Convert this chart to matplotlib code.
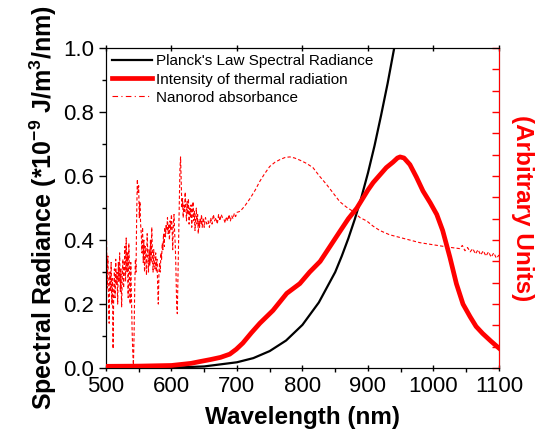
import matplotlib
matplotlib.use('Agg')
import matplotlib.pyplot as plt
from matplotlib.ticker import MultipleLocator, NullFormatter
from matplotlib.lines import Line2D

plt.rcParams['font.family'] = ['Liberation Sans', 'DejaVu Sans']
plt.rcParams['mathtext.fontset'] = 'custom'
plt.rcParams['mathtext.rm'] = 'Liberation Sans'
plt.rcParams['mathtext.bf'] = 'Liberation Sans:bold'

# Planck's law spectral radiance (left axis, *1e-9 J/m^3/nm)
planck_wl = [500, 550, 600, 650, 700, 725, 750, 775, 800, 825, 850, 860, 870, 880,
             890, 900, 910, 920, 930, 940, 950]
planck_val = [0.0, 0.0003, 0.001, 0.005, 0.018, 0.031, 0.053, 0.086, 0.135, 0.205,
              0.30, 0.35, 0.405, 0.466, 0.534, 0.61, 0.695, 0.79, 0.89, 1.0, 1.13]

# Intensity of thermal radiation (right axis, arbitrary units)
thermal_wl = [500, 550, 600, 630, 643, 660, 675, 689, 699, 709, 722, 735, 755, 776,
              796, 811, 827, 842, 857, 870, 883, 900, 908, 918, 928, 938, 945, 949,
              955, 964, 974, 984, 995, 1005, 1014, 1025, 1035, 1045, 1056, 1065, 1075,
              1088, 1100]
thermal_val = [0.008, 0.009, 0.012, 0.022, 0.03, 0.04, 0.05, 0.065, 0.088, 0.117,
               0.165, 0.21, 0.27, 0.35, 0.396, 0.45, 0.50, 0.57, 0.64, 0.70, 0.75,
               0.835, 0.87, 0.905, 0.94, 0.965, 0.985, 0.99, 0.985, 0.954, 0.895,
               0.83, 0.775, 0.72, 0.645, 0.52, 0.395, 0.30, 0.24, 0.195, 0.162,
               0.125, 0.093]

# Nanorod absorbance (right axis, arbitrary units)
nanorod_wl = [500, 501, 502, 503, 504, 505, 506, 507, 508, 509, 510, 511, 512, 513,
              514, 515, 516, 517, 518, 519, 520, 521, 522, 523, 524, 525, 526, 527,
              528, 529, 530, 531, 532, 533, 534, 535, 536, 537, 538, 539, 540, 541,
              542, 543, 544, 545, 546, 547, 548, 549, 550, 551, 552, 553, 554, 555,
              556, 557, 558, 559, 560, 561, 562, 563, 564, 565, 566, 567, 568, 569,
              570, 571, 572, 573, 574, 575, 576, 577, 578, 579, 580, 581, 582, 583,
              584, 585, 586, 587, 588, 589, 590, 591, 592, 593, 594, 595, 596, 597,
              598, 599, 600, 601, 602, 603, 604, 605, 606, 607, 608, 609, 610, 611,
              612, 613, 614, 615, 616, 617, 618, 619, 620, 621, 622, 623, 624, 625,
              626, 627, 628, 629, 630, 631, 632, 633, 634, 635, 636, 637, 638, 639,
              640, 641, 642, 643, 644, 645, 646, 647, 648, 649, 650, 652, 654, 656,
              658, 660, 662, 664, 666, 668, 670, 672, 674, 676, 678, 680, 682, 684,
              686, 688, 690, 692, 694, 696, 698, 700, 705, 712, 720, 728, 735, 742,
              750, 758, 766, 774, 781, 788, 796, 806, 816, 826, 837, 847, 857, 867,
              877, 888, 898, 908, 918, 933, 949, 964, 979, 995, 1010, 1025, 1040,
              1044, 1048, 1052, 1056, 1060, 1064, 1068, 1072, 1076, 1080, 1084, 1088,
              1092, 1096, 1100]
nanorod_val = [0.45, 0.60, 0.375, 0.525, 0.315, 0.21, 0.45, 0.36, 0.495, 0.30, 0.42,
               0.09, 0.375, 0.465, 0.33, 0.51, 0.39, 0.45, 0.30, 0.495, 0.405, 0.54,
               0.36, 0.465, 0.285, 0.42, 0.51, 0.375, 0.45, 0.57, 0.405, 0.61, 0.45,
               0.54, 0.33, 0.585, 0.45, 0.30, 0.495, 0.33, 0.18, 0.075, 0.015, 0.15,
               0.375, 0.51, 0.45, 0.72, 0.885, 0.825, 0.855, 0.705, 0.78, 0.675, 0.63,
               0.54, 0.66, 0.495, 0.60, 0.45, 0.57, 0.51, 0.435, 0.63, 0.525, 0.45,
               0.555, 0.48, 0.60, 0.495, 0.66, 0.54, 0.45, 0.555, 0.495, 0.465, 0.54,
               0.45, 0.51, 0.39, 0.30, 0.45, 0.495, 0.45, 0.54, 0.51, 0.585, 0.555,
               0.63, 0.57, 0.66, 0.615, 0.675, 0.645, 0.705, 0.63, 0.675, 0.60, 0.69,
               0.645, 0.72, 0.66, 0.555, 0.675, 0.72, 0.63, 0.57, 0.45, 0.30, 0.255,
               0.42, 0.60, 0.78, 0.93, 0.99, 0.87, 0.75, 0.795, 0.705, 0.765, 0.735,
               0.825, 0.75, 0.69, 0.78, 0.72, 0.795, 0.675, 0.75, 0.705, 0.765, 0.66,
               0.72, 0.78, 0.69, 0.735, 0.645, 0.705, 0.75, 0.675, 0.72, 0.63, 0.69,
               0.66, 0.705, 0.675, 0.72, 0.66, 0.69, 0.705, 0.66, 0.705, 0.675, 0.69,
               0.66, 0.705, 0.675, 0.72, 0.69, 0.705, 0.675, 0.72, 0.69, 0.72, 0.705,
               0.70, 0.68, 0.71, 0.69, 0.72, 0.69, 0.715, 0.70, 0.725, 0.71, 0.73,
               0.735, 0.76, 0.795, 0.835, 0.876, 0.91, 0.945, 0.965, 0.978, 0.988,
               0.99, 0.985, 0.975, 0.96, 0.94, 0.90, 0.86, 0.82, 0.78, 0.755, 0.735,
               0.705, 0.69, 0.665, 0.645, 0.625, 0.612, 0.60, 0.588, 0.58, 0.573,
               0.566, 0.56, 0.575, 0.55, 0.565, 0.545, 0.56, 0.535, 0.555, 0.53,
               0.55, 0.525, 0.545, 0.52, 0.54, 0.515, 0.53]

fig = plt.figure(figsize=(5.43, 4.34), dpi=100)
ax = fig.add_axes([0.195, 0.152, 0.724, 0.737])
ax2 = ax.twinx()

ax.plot(planck_wl, planck_val, color='black', lw=1.6, zorder=3)
ax2.plot(thermal_wl, thermal_val, color='red', lw=3.4, zorder=3)
ax2.plot(nanorod_wl, nanorod_val, color='red', lw=0.8, ls=(0, (3, 2)), zorder=2)

ax.set_xlim(500, 1100)
ax.set_ylim(0, 1.0)
ax2.set_ylim(0, 1.5)

ax.xaxis.set_major_locator(MultipleLocator(100))
ax.xaxis.set_minor_locator(MultipleLocator(50))
ax.yaxis.set_major_locator(MultipleLocator(0.2))
ax.yaxis.set_minor_locator(MultipleLocator(0.1))
ax.tick_params(axis='both', which='major', labelsize=16, length=5, width=1, direction='out')
ax.tick_params(axis='both', which='minor', length=3, width=1, direction='out')
ax.tick_params(axis='x', which='major', top=True)
ax.tick_params(axis='x', which='major', direction='inout', length=5)
ax.yaxis.set_major_formatter(plt.FuncFormatter(lambda v, p: f'{v:.1f}'))

ax2.yaxis.set_major_locator(MultipleLocator(0.1))
ax2.yaxis.set_major_formatter(NullFormatter())
ax2.tick_params(axis='y', which='major', length=5, width=1, direction='in', colors='red')
ax2.spines['right'].set_color('red')

ax.set_xlabel('Wavelength (nm)', fontsize=17.5, fontweight='bold', labelpad=6)
ax.set_ylabel('Spectral Radiance (*10$^{\\mathbf{-9}}$ J/m$^{\\mathbf{3}}$/nm)',
              fontsize=18, fontweight='bold', labelpad=3)
ax2.set_ylabel('(Arbitrary Units)', fontsize=17.5, fontweight='bold', color='red',
               rotation=270, labelpad=22)

handles = [Line2D([], [], color='black', lw=1.6),
           Line2D([], [], color='red', lw=3.4),
           Line2D([], [], color='red', lw=0.8, ls=(0, (5, 3, 1, 3)))]
labels = ["Planck's Law Spectral Radiance", 'Intensity of thermal radiation',
          'Nanorod absorbance']
ax2.legend(handles, labels, loc='upper left', bbox_to_anchor=(0.0, 1.0), frameon=False,
           fontsize=11, handlelength=2.6, handletextpad=0.3, labelspacing=0.28,
           borderaxespad=0.15, borderpad=0.25)

fig.savefig('out.png', dpi=100)
